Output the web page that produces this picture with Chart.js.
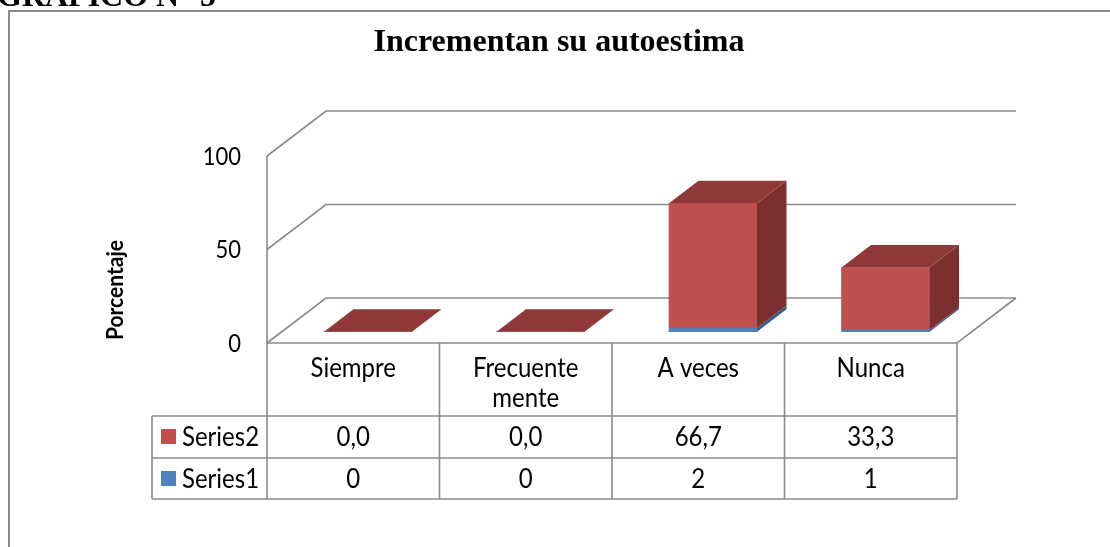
<!DOCTYPE html>
<html>
<head>
<meta charset="utf-8">
<script src="https://cdn.jsdelivr.net/npm/chart.js@4/dist/chart.umd.min.js"></script>
<style>
    html, body { margin: 0; padding: 0; background: #fff; }
    #wrap { position: relative; width: 1110px; height: 547px; }
</style>
</head>
<body>
<div id="wrap"><canvas id="chart" width="1110" height="547"></canvas></div>
<script>
const categories = [["Siempre"], ["Frecuente", "mente"], ["A veces"], ["Nunca"]];
const series1Values = [0, 0, 2, 1];
const series2Values = [0.0, 0.0, 66.7, 33.3];
const yTicks = [0, 50, 100];

const gray = "#8a8a8a";
const floorDepth = {x: 59, y: -45};
const barFront = {x: 14.75, y: -11.25};
const barDepth = {x: 29.5, y: -22.5};

const faces = {
    "Series1": {front: "#4F81BD", side: "#385D8A", top: "#426FA3"},
    "Series2": {front: "#C0504D", side: "#7B2F2E", top: "#8F3A38"},
};

function line(ctx, pts) {
    ctx.beginPath();
    ctx.moveTo(pts[0][0], pts[0][1]);
    for (let i = 1; i < pts.length; i++) ctx.lineTo(pts[i][0], pts[i][1]);
    ctx.stroke();
}

function poly(ctx, pts, color) {
    ctx.beginPath();
    ctx.moveTo(pts[0][0], pts[0][1]);
    for (let i = 1; i < pts.length; i++) ctx.lineTo(pts[i][0], pts[i][1]);
    ctx.closePath();
    ctx.fillStyle = color;
    ctx.fill();
}

// slightly taller text, like the stretched original
function tallText(ctx, txt, x, y, stretch) {
    ctx.save();
    ctx.translate(x, y);
    ctx.scale(1, stretch || 1.1);
    ctx.fillText(txt, 0, 0);
    ctx.restore();
}

const tableBottom = 499;
const rowLines = [416, 458];
const legendLeft = 152;

const excel3d = {
    id: "excel3d",
    beforeDraw(chart) {
        const ctx = chart.ctx;
        const area = chart.chartArea;
        const y = chart.scales.y;
        ctx.save();
        // outer frame
        ctx.strokeStyle = gray;
        ctx.lineWidth = 2;
        line(ctx, [[9, 560], [9, 11], [1120, 11]]);

        // cut off heading above the frame
        ctx.fillStyle = "#000";
        ctx.font = "bold 32px 'Liberation Serif', 'Times New Roman', serif";
        ctx.textBaseline = "alphabetic";
        ctx.textAlign = "left";
        ctx.fillText("GRAFICO N° 5", -3, 6);

        // title
        ctx.textAlign = "center";
        ctx.fillText("Incrementan su autoestima", 559, 51);

        // walls and gridlines
        ctx.lineWidth = 1.6;
        ctx.strokeStyle = gray;
        yTicks.forEach(v => {
            const py = y.getPixelForValue(v);
            line(ctx, [[area.left, py], [area.left + floorDepth.x, py + floorDepth.y],
                [area.right + floorDepth.x, py + floorDepth.y]]);
        });
        const y0 = y.getPixelForValue(0);
        line(ctx, [[area.left, y.getPixelForValue(100)], [area.left, tableBottom]]);
        line(ctx, [[area.left, y0], [area.right, y0], [area.right + floorDepth.x, y0 + floorDepth.y]]);

        // tick labels
        ctx.fillStyle = "#000";
        ctx.font = "22px Lato, 'Open Sans', sans-serif";
        ctx.textAlign = "right";
        ctx.textBaseline = "middle";
        yTicks.forEach(v => tallText(ctx, String(v), 241, y.getPixelForValue(v) + 1));

        // axis title
        ctx.save();
        ctx.translate(116, 290);
        ctx.rotate(-Math.PI / 2);
        ctx.textAlign = "center";
        ctx.font = "bold 21px Lato, 'Open Sans', sans-serif";
        tallText(ctx, "Porcentaje", 0, 0);
        ctx.restore();
        ctx.restore();
    },
    beforeDatasetsDraw(chart) {
        chart.ctx.save();
        chart.ctx.translate(barFront.x, barFront.y);
    },
    afterDatasetsDraw(chart) {
        const ctx = chart.ctx;
        ctx.restore();
        ctx.save();
        const last = chart.data.datasets.length - 1;
        chart.data.datasets.forEach((ds, di) => {
            const meta = chart.getDatasetMeta(di);
            const c = faces[ds.label];
            meta.data.forEach(bar => {
                const left = bar.x - bar.width / 2 + barFront.x;
                const right = bar.x + bar.width / 2 + barFront.x;
                const top = Math.min(bar.y, bar.base) + barFront.y;
                const bottom = Math.max(bar.y, bar.base) + barFront.y;
                if (bottom - top > 0.5) {
                    poly(ctx, [[right, bottom], [right + barDepth.x, bottom + barDepth.y],
                        [right + barDepth.x, top + barDepth.y], [right, top]], c.side);
                }
                // only the top of the stack shows its lid
                if (di === last) {
                    poly(ctx, [[left, top], [right, top], [right + barDepth.x, top + barDepth.y],
                        [left + barDepth.x, top + barDepth.y]], c.top);
                }
            });
        });
        ctx.restore();
    },
    afterDraw(chart) {
        const ctx = chart.ctx;
        const area = chart.chartArea;
        const x = chart.scales.x;
        const y0 = chart.scales.y.getPixelForValue(0);
        const step = (area.right - area.left) / categories.length;
        ctx.save();
        ctx.strokeStyle = gray;
        ctx.lineWidth = 1.6;
        for (let i = 1; i <= categories.length; i++) {
            const px = area.left + i * step;
            line(ctx, [[px, y0], [px, tableBottom]]);
        }
        rowLines.concat([tableBottom]).forEach(py => line(ctx, [[legendLeft, py], [area.right, py]]));
        line(ctx, [[legendLeft, rowLines[0]], [legendLeft, tableBottom]]);

        ctx.fillStyle = "#000";
        ctx.font = "24px Lato, 'Open Sans', sans-serif";
        ctx.textAlign = "center";
        ctx.textBaseline = "alphabetic";
        categories.forEach((cat, i) => {
            const cx = x.getPixelForValue(i);
            cat.forEach((txt, k) => tallText(ctx, txt, cx, 377 + k * 30));
        });

        const rows = [
            {label: "Series2", values: series2Values.map(v => v.toFixed(1).replace(".", ",")), y: 437},
            {label: "Series1", values: series1Values.map(v => String(v)), y: 479},
        ];
        ctx.textBaseline = "middle";
        rows.forEach(r => {
            ctx.textAlign = "center";
            r.values.forEach((txt, i) => tallText(ctx, txt, x.getPixelForValue(i), r.y));
            ctx.fillStyle = faces[r.label].front;
            ctx.fillRect(161, r.y - 8, 15, 15);
            ctx.fillStyle = "#000";
            ctx.textAlign = "left";
            tallText(ctx, r.label, 182, r.y);
        });
        ctx.restore();
    }
};

new Chart(document.getElementById("chart"), {
    type: "bar",
    data: {
        labels: categories,
        datasets: [
            {label: "Series1", data: series1Values, backgroundColor: faces.Series1.front},
            {label: "Series2", data: series2Values, backgroundColor: faces.Series2.front},
        ],
    },
    options: {
        responsive: false,
        animation: false,
        devicePixelRatio: 1,
        layout: {padding: {left: 267, right: 153, top: 156, bottom: 204}},
        datasets: {bar: {barThickness: 88, borderWidth: 0, clip: false}},
        scales: {
            x: {display: false, stacked: true},
            y: {display: false, stacked: true, min: 0, max: 100},
        },
        plugins: {
            legend: {display: false},
            tooltip: {enabled: false},
            title: {display: false},
        },
    },
    plugins: [excel3d],
});
</script>
</body>
</html>
